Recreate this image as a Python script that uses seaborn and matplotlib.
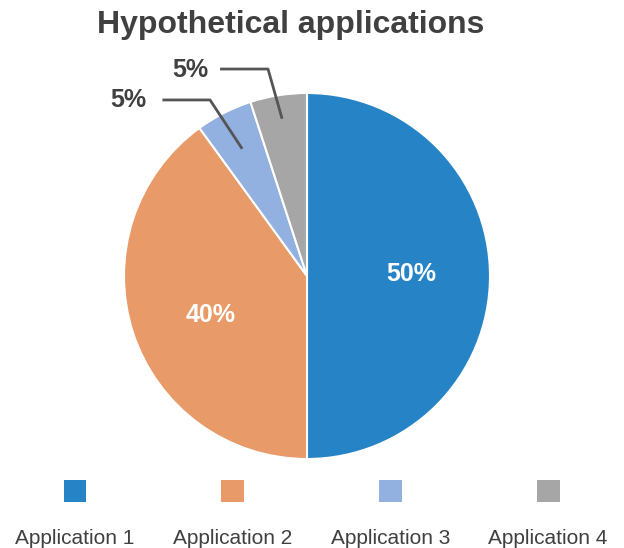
import numpy as np
import matplotlib
matplotlib.use("Agg")
import matplotlib.pyplot as plt
import seaborn as sns

# chart data
apps = ["Application 1", "Application 2", "Application 3", "Application 4"]
shares = [50, 40, 5, 5]
colors = ["#2684C6", "#E89B68", "#92B0E0", "#A6A6A6"]

sns.set_theme(style="white")
plt.rcParams["font.family"] = ["Liberation Sans", "DejaVu Sans"]

TXT = "#404040"
LINE = "#555555"

fig = plt.figure(figsize=(6.24, 5.48), dpi=100)

# pie axes: radius 1 -> 183 px, centre at (307, 276) px from top-left
ax = fig.add_axes([124 / 624, 89 / 548, 366 / 624, 366 / 548])
wedges, _ = ax.pie(shares, colors=colors, startangle=90, counterclock=False,
                   wedgeprops=dict(edgecolor="white", linewidth=1.5))
ax.set_xlim(-1, 1)
ax.set_ylim(-1, 1)
ax.set_aspect("equal")
ax.axis("off")

# labels: big slices inside, small ones outside with leader lines
inside_r = 0.57
angle_nudge = {0: 1.0, 1: 4.0}
label_pos = {2: (-0.975, 0.962), 3: (-0.64, 1.126)}
elbow_pos = {2: (-0.53, 0.962), 3: (-0.213, 1.131)}
line_start = {2: (-0.79, 0.962), 3: (-0.475, 1.131)}
tip_r = {2: 0.78, 3: 0.87}
for i, (w, v) in enumerate(zip(wedges, shares)):
    mid = (w.theta1 + w.theta2) / 2
    if i < 2:
        a = np.deg2rad(mid + angle_nudge[i])
        ax.text(inside_r * np.cos(a), inside_r * np.sin(a), f"{v}%",
                ha="center", va="center", color="white",
                fontsize=18, fontweight="bold")
    else:
        a = np.deg2rad(mid)
        tx, ty = label_pos[i]
        ax.text(tx, ty, f"{v}%", ha="center", va="center", color=TXT,
                fontsize=18, fontweight="bold", clip_on=False)
        px = tip_r[i] * np.cos(a)
        py = tip_r[i] * np.sin(a)
        sx, sy = line_start[i]
        ex, ey = elbow_pos[i]
        ax.plot([sx, ex, px], [sy, ey, py], color=LINE, lw=2,
                clip_on=False, solid_capstyle="butt")

fig.text(291 / 624, 1 - 25 / 548, "Hypothetical applications",
         ha="center", va="center", fontsize=23, fontweight="bold", color=TXT)

# legend: square marker above each label
lax = fig.add_axes([0, 0, 1, 90 / 548])
lax.set_xlim(0, 624)
lax.set_ylim(0, 90)
lax.axis("off")
xs = [75 + 157.7 * k for k in range(len(apps))]
sns.scatterplot(x=xs, y=[57] * len(apps), hue=apps, palette=colors,
                marker="s", s=270, linewidth=0, legend=False, ax=lax)
for x, name in zip(xs, apps):
    lax.text(x, 10, name, ha="center", va="center", fontsize=15, color=TXT)

fig.savefig("out.png", dpi=100, facecolor="white")
